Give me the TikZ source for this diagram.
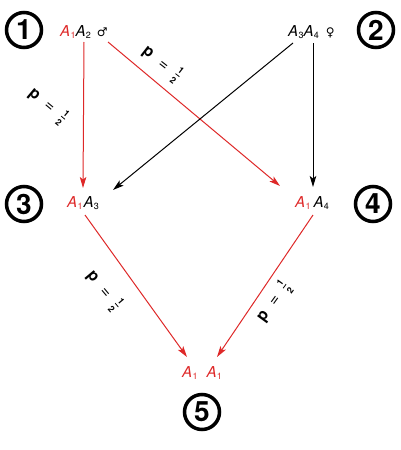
\documentclass[tikz,border=0pt]{standalone}
\usepackage{amsmath}
\usepackage{fontspec}
\setmainfont{TeX Gyre Heros}
\newfontfamily\symfont{DejaVu Sans}
\usetikzlibrary{arrows.meta}
\definecolor{myred}{RGB}{222,40,40}
\newcommand\Asb[1]{\textit{A}\kern0.3pt\raisebox{-0.35ex}{\fontsize{9}{9}\selectfont #1}}
\newcommand\RAsb[1]{{\color{myred}\Asb{#1}}}
\tikzset{
  numc/.style={circle, draw, line width=3.5pt, minimum size=35pt, inner sep=0pt,
    font=\fontsize{28}{28}\selectfont\bfseries},
  lbl/.style={inner sep=0pt, font=\fontsize{15}{15}\selectfont},
  plbl/.style={inner sep=0pt, font=\fontsize{16}{16}\selectfont},
  redln/.style={draw=myred, line width=1pt, -{Stealth[length=11pt,width=6.5pt,inset=2.5pt]}},
  blkln/.style={draw=black, line width=1pt, -{Stealth[length=11pt,width=6.5pt,inset=2.5pt]}}
}
\newcommand\plab{\textbf{p}\hspace{10pt}=\hspace{9pt}$\genfrac{}{}{0.8pt}{1}{\text{\bfseries\fontsize{9}{9}\selectfont 1}}{\text{\bfseries\fontsize{9}{9}\selectfont 2}}$}
\begin{document}
\begin{tikzpicture}[x=1pt,y=-1pt]
\useasboundingbox (0,0) rectangle (400,450);
% circled numbers
\node[numc] (c1) at (24,30) {1};
\node[numc] (c2) at (376,30) {2};
\node[numc] (c3) at (24,204) {3};
\node[numc] (c4) at (373,204) {4};
\node[numc] (c5) at (202,412) {5};
% genotype labels
\node[lbl, anchor=base west] (n1) at (60,36) {\RAsb{1}\Asb{2}\hspace{6pt}{\symfont\fontsize{12}{12}\selectfont ♂}};
\node[lbl, anchor=base west] (n2) at (288,36) {\Asb{3}\Asb{4}\hspace{7pt}{\symfont\fontsize{12}{12}\selectfont ♀}};
\node[lbl, anchor=base west] (n3) at (67,207) {\RAsb{1}\kern1pt\Asb{3}};
\node[lbl, anchor=base west] (n4) at (295,207) {\RAsb{1}\kern3pt\Asb{4}};
\node[lbl, anchor=base west] (n5) at (182,377) {\RAsb{1}\kern9pt\RAsb{1}};
% connectors
\draw[redln] ([xshift=24pt,yshift=-6pt]n1.base west) -- ([xshift=16pt,yshift=19pt]n3.base west);
\draw[redln] ([xshift=48pt,yshift=-6pt]n1.base west) -- ([xshift=-15pt,yshift=21pt]n4.base west);
\draw[blkln] ([xshift=5pt,yshift=-7pt]n2.base west) -- ([xshift=46pt,yshift=17pt]n3.base west);
\draw[blkln] ([xshift=25pt,yshift=-7pt]n2.base west) -- ([xshift=18pt,yshift=20pt]n4.base west);
\draw[redln] ([xshift=18pt,yshift=-8pt]n3.base west) -- ([xshift=5pt,yshift=20pt]n5.base west);
\draw[redln] ([xshift=18pt,yshift=-8pt]n4.base west) -- ([xshift=35pt,yshift=20pt]n5.base west);
% probability labels
\node[plbl, rotate=-38] (L1) at (162,64) {\plab};
\node[plbl, rotate=-40] (L2) at (48,106) {\plab};
\node[plbl, rotate=-50] (L3) at (104,291) {\plab};
\node[plbl, rotate=54] (L4) at (274,302) {\plab};
\end{tikzpicture}
\end{document}
